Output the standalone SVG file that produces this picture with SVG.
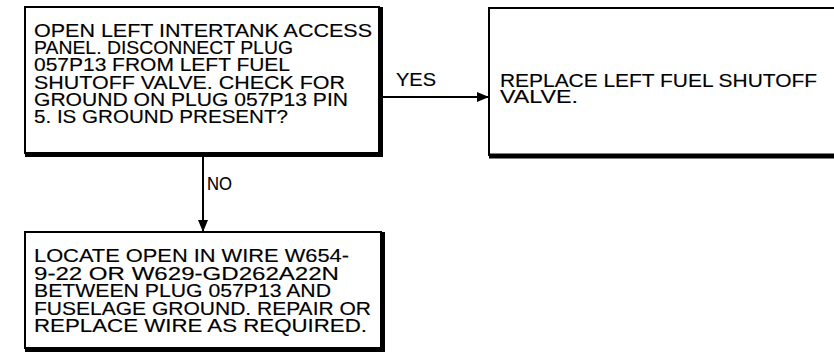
<svg xmlns="http://www.w3.org/2000/svg" width="834" height="363" viewBox="0 0 834 363">
<defs>
<style>
.box{fill:#fff;stroke:#000;stroke-width:2}
.sh{fill:none;stroke:#000;stroke-width:5}
.t{font-family:"Liberation Sans",Arial,sans-serif;font-size:18px;fill:#000;stroke:#000;stroke-width:0.15}
.ln{stroke:#000;stroke-width:2;fill:none}
</style>
<marker id="ah" markerWidth="12" markerHeight="10" refX="12" refY="5" orient="auto" markerUnits="userSpaceOnUse">
<path d="M0,0 L12,5 L0,10 Z" fill="#000"/>
</marker>
</defs>
<g id="connectors">
<line class="ln" x1="381" y1="97" x2="489" y2="97" marker-end="url(#ah)"/>
<text class="t" x="396" y="86" textLength="40" lengthAdjust="spacingAndGlyphs">YES</text>
<line class="ln" x1="203" y1="156" x2="203" y2="232" marker-end="url(#ah)"/>
<text class="t" x="207" y="190" textLength="25" lengthAdjust="spacingAndGlyphs">NO</text>
</g>
<g id="n1">
<rect class="box" x="25" y="7" width="354" height="146"/>
<path class="sh" d="M25,154.5 H380.5 V7"/>
<text class="t"><tspan x="34" y="37" textLength="338" lengthAdjust="spacingAndGlyphs">OPEN LEFT INTERTANK ACCESS</tspan><tspan x="34" y="54.2" textLength="259" lengthAdjust="spacingAndGlyphs">PANEL. DISCONNECT PLUG</tspan><tspan x="34" y="71.4" textLength="256" lengthAdjust="spacingAndGlyphs">057P13 FROM LEFT FUEL</tspan><tspan x="34" y="88.6" textLength="311" lengthAdjust="spacingAndGlyphs">SHUTOFF VALVE. CHECK FOR</tspan><tspan x="34" y="105.8" textLength="314" lengthAdjust="spacingAndGlyphs">GROUND ON PLUG 057P13 PIN</tspan><tspan x="34" y="123" textLength="254" lengthAdjust="spacingAndGlyphs">5. IS GROUND PRESENT?</tspan></text>
</g>
<g id="n2">
<rect class="box" x="489" y="8" width="360" height="147"/>
<path class="sh" d="M489,156 H840"/>
<text class="t"><tspan x="500" y="87" textLength="317" lengthAdjust="spacingAndGlyphs">REPLACE LEFT FUEL SHUTOFF</tspan><tspan x="500" y="103" textLength="78" lengthAdjust="spacingAndGlyphs">VALVE.</tspan></text>
</g>
<g id="n3">
<rect class="box" x="25" y="232" width="356" height="116"/>
<path class="sh" d="M25,349.5 H382.5 V232"/>
<text class="t"><tspan x="34" y="262" textLength="315" lengthAdjust="spacingAndGlyphs">LOCATE OPEN IN WIRE W654-</tspan><tspan x="34" y="279.5" textLength="305" lengthAdjust="spacingAndGlyphs">9-22 OR W629-GD262A22N</tspan><tspan x="34" y="297" textLength="297" lengthAdjust="spacingAndGlyphs">BETWEEN PLUG 057P13 AND</tspan><tspan x="34" y="314.5" textLength="337" lengthAdjust="spacingAndGlyphs">FUSELAGE GROUND. REPAIR OR</tspan><tspan x="34" y="332" textLength="333" lengthAdjust="spacingAndGlyphs">REPLACE WIRE AS REQUIRED.</tspan></text>
</g>
</svg>
